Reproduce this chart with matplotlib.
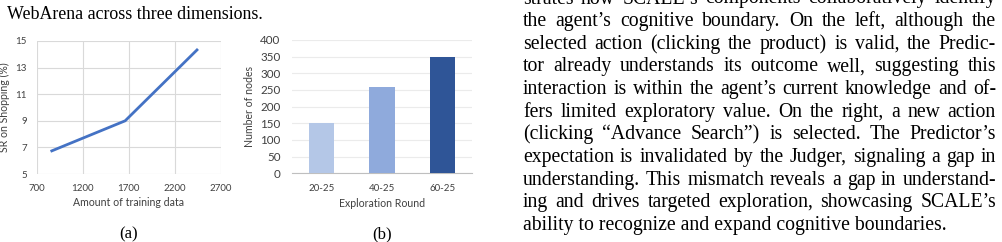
import matplotlib
matplotlib.use("Agg")
import matplotlib.pyplot as plt

# data for panel (a)
train_amount = [850, 1660, 2450]
sr_shopping = [6.7, 9.0, 14.4]
# data for panel (b)
rounds = ["20-25", "40-25", "60-25"]
nodes = [150, 260, 348]
bar_colors = ["#B4C7E7", "#8FAADC", "#2F5597"]

left_caption = "WebArena across three dimensions."
body_lines = [
    "strates how SCALE\u2019s components collaboratively identify",
    "the agent\u2019s cognitive boundary.  On the left, although the",
    "selected action (clicking the product) is valid, the Predic-",
    "tor already understands its outcome well, suggesting this",
    "interaction is within the agent\u2019s current knowledge and of-",
    "fers limited exploratory value.  On the right, a new action",
    "(clicking \u201cAdvance Search\u201d) is selected.  The Predictor\u2019s",
    "expectation is invalidated by the Judger, signaling a gap in",
    "understanding. This mismatch reveals a gap in understand-",
    "ing and drives targeted exploration, showcasing SCALE\u2019s",
    "ability to recognize and expand cognitive boundaries.",
]

W, H = 1002, 242
fig = plt.figure(figsize=(W / 100, H / 100), dpi=100)
fig.patch.set_facecolor("white")

sans = ["Lato", "DejaVu Sans"]
serif = ["Liberation Serif", "DejaVu Serif"]
grid_c = "#D9D9D9"
tick_c = "#404040"


def px_axes(x0, y0, x1, y1):
    return fig.add_axes([x0 / W, 1 - y1 / H, (x1 - x0) / W, (y1 - y0) / H])


# ---------- panel (a) ----------
ax1 = px_axes(36.7, 41, 221, 174)
ax1.plot(train_amount, sr_shopping, color="#4472C4", lw=2.0, solid_capstyle="butt")
ax1.set_xlim(700, 2700)
ax1.set_ylim(5, 15)
ax1.set_xticks([700, 1200, 1700, 2200, 2700])
ax1.set_yticks([5, 7, 9, 11, 13, 15])
ax1.grid(True, color=grid_c, lw=0.8)
ax1.set_axisbelow(True)
for s in ax1.spines.values():
    s.set_visible(False)
ax1.tick_params(length=0, labelsize=7, colors=tick_c, pad=7)
for lab in ax1.get_xticklabels() + ax1.get_yticklabels():
    lab.set_family(sans)
ax1.set_xlabel("Amount of training data", fontsize=7.6, family=sans, color=tick_c, labelpad=3)
ax1.set_ylabel("SR on Shopping (%)", fontsize=7.6, family=sans, color=tick_c, labelpad=4)

# ---------- panel (b) ----------
ax2 = px_axes(291.7, 40, 472.3, 173.3)
xs = range(len(rounds))
ax2.bar(xs, nodes, width=0.42, color=bar_colors, zorder=3)
ax2.set_xlim(-0.5, 2.5)
ax2.set_ylim(0, 400)
ax2.set_yticks(range(0, 401, 50))
ax2.set_xticks(list(xs))
ax2.set_xticklabels(rounds)
ax2.yaxis.grid(True, color="#EBEBEB", lw=0.8)
ax2.set_axisbelow(True)
for k in ["top", "right", "left"]:
    ax2.spines[k].set_visible(False)
ax2.spines["bottom"].set_color("#BFBFBF")
ax2.tick_params(length=0, colors=tick_c)
ax2.tick_params(axis="y", labelsize=8.4, pad=8)
ax2.tick_params(axis="x", labelsize=7, pad=8)
for lab in ax2.get_xticklabels() + ax2.get_yticklabels():
    lab.set_family(sans)
ax2.set_xlabel("Exploration Round", fontsize=7.6, family=sans, color=tick_c, labelpad=3)
ax2.set_ylabel("Number of nodes", fontsize=7.6, family=sans, color=tick_c, labelpad=4)

# ---------- page text overlay ----------
ov = fig.add_axes([0, 0, 1, 1], zorder=-1)
ov.set_xlim(0, W)
ov.set_ylim(H, 0)
ov.axis("off")

ov.text(7, 19, left_caption, fontsize=12.9, family=serif, va="baseline", ha="left")
ov.text(128.9, 238, "(a)", fontsize=12, family=serif, va="baseline", ha="center")
ov.text(382, 238, "(b)", fontsize=12, family=serif, va="baseline", ha="center")

# body column, justified word by word
fs = 14.2
renderer = fig.canvas.get_renderer()
x_left, x_right = 523, 996
for i, line in enumerate(body_lines):
    y = 3.5 + 22.65 * i
    words = line.split()
    if i == len(body_lines) - 1:
        ov.text(x_left, y, line, fontsize=fs, family=serif, va="baseline", ha="left")
        continue
    objs = [ov.text(0, y, w, fontsize=fs, family=serif, va="baseline", ha="left") for w in words]
    widths = [o.get_window_extent(renderer).width for o in objs]
    gap = (x_right - x_left - sum(widths)) / (len(words) - 1)
    x = x_left
    for o, w in zip(objs, widths):
        o.set_x(x)
        x += w + gap

fig.savefig("out.png", dpi=100, facecolor="white")
